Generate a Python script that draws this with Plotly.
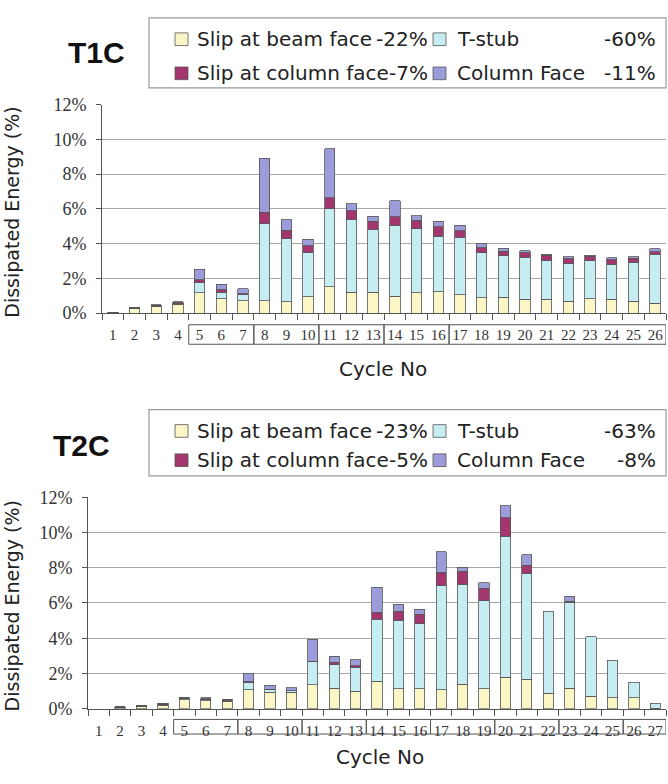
import plotly.graph_objects as go

W, H = 668, 784

# ---------------- data ----------------
series_names = ["Slip at beam face", "T-stub", "Slip at column face", "Column Face"]

cycles_t1c = list(range(1, 27))
t1c_beam = [0.05, 0.26, 0.36, 0.50, 1.16, 0.83, 0.70, 0.70, 0.64, 0.94, 1.50, 1.20, 1.20,
            0.98, 1.16, 1.24, 1.05, 0.88, 0.92, 0.79, 0.79, 0.68, 0.83, 0.79, 0.68, 0.56]
t1c_tstub = [0.00, 0.02, 0.03, 0.04, 0.60, 0.37, 0.35, 4.44, 3.64, 2.53, 4.50, 4.18, 3.62,
             4.08, 3.68, 3.19, 3.30, 2.59, 2.38, 2.42, 2.25, 2.17, 2.17, 2.02, 2.25, 2.82]
t1c_colslip = [0.00, 0.02, 0.05, 0.06, 0.15, 0.15, 0.07, 0.67, 0.48, 0.39, 0.64, 0.52, 0.47,
               0.49, 0.49, 0.54, 0.38, 0.28, 0.26, 0.26, 0.28, 0.28, 0.26, 0.27, 0.22, 0.15]
t1c_colface = [0.01, 0.02, 0.03, 0.04, 0.62, 0.32, 0.27, 3.09, 0.62, 0.40, 2.81, 0.40, 0.28,
               0.90, 0.26, 0.30, 0.33, 0.23, 0.17, 0.11, 0.07, 0.10, 0.08, 0.09, 0.08, 0.16]
t1c_shares = ["-22%", "-60%", "-7%", "-11%"]
t1c_groups = [(5, 7), (8, 10), (11, 13), (14, 16), (17, 26)]

cycles_t2c = list(range(1, 28))
t2c_beam = [0.00, 0.06, 0.10, 0.19, 0.52, 0.46, 0.41, 1.07, 0.92, 0.92, 1.35, 1.16, 0.98, 1.57,
            1.14, 1.14, 1.07, 1.40, 1.14, 1.79, 1.66, 0.89, 1.16, 0.70, 0.61, 0.61, 0.04]
t2c_tstub = [0.00, 0.02, 0.03, 0.04, 0.07, 0.05, 0.06, 0.41, 0.15, 0.09, 1.31, 1.34, 1.36, 3.50,
             3.88, 3.69, 5.94, 5.65, 4.99, 7.99, 6.03, 4.63, 4.89, 3.38, 2.14, 0.90, 0.27]
t2c_colslip = [0.00, 0.02, 0.03, 0.04, 0.02, 0.05, 0.05, 0.05, 0.03, 0.02, 0.02, 0.14, 0.10, 0.41,
               0.52, 0.52, 0.74, 0.74, 0.70, 1.05, 0.46, 0.00, 0.04, 0.00, 0.00, 0.00, 0.00]
t2c_colface = [0.00, 0.01, 0.02, 0.03, 0.04, 0.05, 0.03, 0.44, 0.23, 0.17, 1.25, 0.35, 0.35, 1.40,
               0.40, 0.28, 1.16, 0.24, 0.33, 0.70, 0.58, 0.00, 0.28, 0.00, 0.00, 0.00, 0.00]
t2c_shares = ["-23%", "-63%", "-5%", "-8%"]
t2c_groups = [(5, 7), (8, 10), (11, 13), (14, 16), (17, 19), (20, 22), (23, 25), (26, 27)]

ytick_vals = [0, 2, 4, 6, 8, 10, 12]
ytick_text = ["0%", "2%", "4%", "6%", "8%", "10%", "12%"]

# ---------------- style ----------------
colors = ["#FAF6C6", "#C6EEF2", "#A3356F", "#9D9CDB"]
edge = "#555555"
SANS = "DejaVu Sans"
SERIF = "Liberation Serif"


def fx(x):
    return x / W


def fy(y):
    return 1 - y / H


panels = [
    dict(name="T1C", xa="x", ya="y", cycles=cycles_t1c,
         series=[t1c_beam, t1c_tstub, t1c_colslip, t1c_colface], shares=t1c_shares,
         groups=t1c_groups, xdom=(102, 666), ydom=(97, 311), gbox=(323, 343),
         lbox=(149, 8, 666, 80), rows=(30, 65), title=(96, 44),
         ytitle=(12, 208), xtitle=(383, 368)),
    dict(name="T2C", xa="x2", ya="y2", cycles=cycles_t2c,
         series=[t2c_beam, t2c_tstub, t2c_colslip, t2c_colface], shares=t2c_shares,
         groups=t2c_groups, xdom=(88, 666), ydom=(500, 717), gbox=(728, 743),
         lbox=(149, 410, 666, 478), rows=(432, 462), title=(81, 447),
         ytitle=(12, 612), xtitle=(380, 767)),
]

fig = go.Figure()
shapes = []
annotations = []
layout_axes = {}

for p in panels:
    for name, vals, col in zip(series_names, p["series"], colors):
        fig.add_trace(go.Bar(
            x=p["cycles"], y=[v if v > 0 else None for v in vals], name=name,
            marker=dict(color=col, line=dict(color=edge, width=0.8)),
            width=0.48, xaxis=p["xa"], yaxis=p["ya"], showlegend=False))

    n = len(p["cycles"])
    xkey = "xaxis" if p["xa"] == "x" else "xaxis" + p["xa"][1:]
    ykey = "yaxis" if p["ya"] == "y" else "yaxis" + p["ya"][1:]
    layout_axes[xkey] = dict(
        domain=[fx(p["xdom"][0]), fx(p["xdom"][1])], anchor=p["ya"],
        range=[0.5, n + 0.5], tickmode="array", tickvals=p["cycles"],
        ticktext=[str(c) for c in p["cycles"]], ticks="",
        showline=True, linecolor=edge, linewidth=1, showgrid=False, zeroline=False,
        tickfont=dict(family=SERIF, size=15, color="#333"), ticklabelstandoff=8,
        minor=dict(ticks="outside", tickmode="linear", tick0=0.5, dtick=1,
                   ticklen=6, tickcolor=edge, showgrid=False),
        fixedrange=True)
    layout_axes[ykey] = dict(
        domain=[fy(p["ydom"][1]), fy(p["ydom"][0])], anchor=p["xa"],
        range=[0, 12], tickmode="array", tickvals=ytick_vals, ticktext=ytick_text,
        ticks="outside", ticklen=5, tickcolor=edge, showline=True, linecolor=edge,
        showgrid=True, gridcolor="#A8A8A8", gridwidth=1, zeroline=False,
        tickfont=dict(family=SERIF, size=18, color="#333"), ticklabelstandoff=6,
        fixedrange=True)

    # group boxes under the category labels
    for a, b in p["groups"]:
        shapes.append(dict(type="rect", xref=p["xa"], yref="paper",
                           x0=a - 0.5, x1=b + 0.5, y0=fy(p["gbox"][1]), y1=fy(p["gbox"][0]),
                           line=dict(color=edge, width=1), fillcolor="rgba(0,0,0,0)",
                           layer="below"))

    # legend box
    lx0, ly0, lx1, ly1 = p["lbox"]
    shapes.append(dict(type="rect", xref="paper", yref="paper",
                       x0=fx(lx0), x1=fx(lx1), y0=fy(ly1), y1=fy(ly0),
                       line=dict(color="#9A9A9A", width=1.2), fillcolor="white"))
    # legend entries: column 1 -> series 0, 2 ; column 2 -> series 1, 3
    cols = [dict(sw=175, tx=195, pr=430), dict(sw=433, tx=455, pr=658)]
    order = [(0, 0, 0), (1, 0, 1), (2, 1, 0), (3, 1, 1)]  # (series, row, col)
    for si, r, c in order:
        yy = p["rows"][r]
        cc = cols[c]
        shapes.append(dict(type="rect", xref="paper", yref="paper",
                           x0=fx(cc["sw"]), x1=fx(cc["sw"] + 13),
                           y0=fy(yy + 6.5), y1=fy(yy - 6.5),
                           line=dict(color=edge, width=0.8), fillcolor=colors[si]))
        annotations.append(dict(xref="paper", yref="paper", x=fx(cc["tx"]), y=fy(yy),
                                xanchor="left", yanchor="middle", showarrow=False,
                                text=series_names[si],
                                font=dict(family=SANS, size=20, color="#222")))
        annotations.append(dict(xref="paper", yref="paper", x=fx(cc["pr"]), y=fy(yy),
                                xanchor="right", yanchor="middle", showarrow=False,
                                text=p["shares"][si],
                                font=dict(family=SANS, size=20, color="#222")))

    # panel title
    annotations.append(dict(xref="paper", yref="paper", x=fx(p["title"][0]), y=fy(p["title"][1]),
                            xanchor="center", yanchor="middle", showarrow=False,
                            text="<b>" + p["name"] + "</b>",
                            font=dict(family="Liberation Sans", size=30, color="#111")))
    # axis titles
    annotations.append(dict(xref="paper", yref="paper", x=fx(p["ytitle"][0]), y=fy(p["ytitle"][1]),
                            xanchor="center", yanchor="middle", showarrow=False, textangle=-90,
                            text="Dissipated Energy (%)",
                            font=dict(family=SANS, size=19, color="#222")))
    annotations.append(dict(xref="paper", yref="paper", x=fx(p["xtitle"][0]), y=fy(p["xtitle"][1]),
                            xanchor="center", yanchor="middle", showarrow=False,
                            text="Cycle No",
                            font=dict(family=SANS, size=20, color="#222")))

fig.update_layout(
    width=W, height=H, autosize=False,
    margin=dict(l=0, r=0, t=0, b=0),
    paper_bgcolor="white", plot_bgcolor="white",
    barmode="stack",
    shapes=shapes, annotations=annotations,
    **layout_axes,
)

fig.write_html("out.html", config={"displayModeBar": False})
